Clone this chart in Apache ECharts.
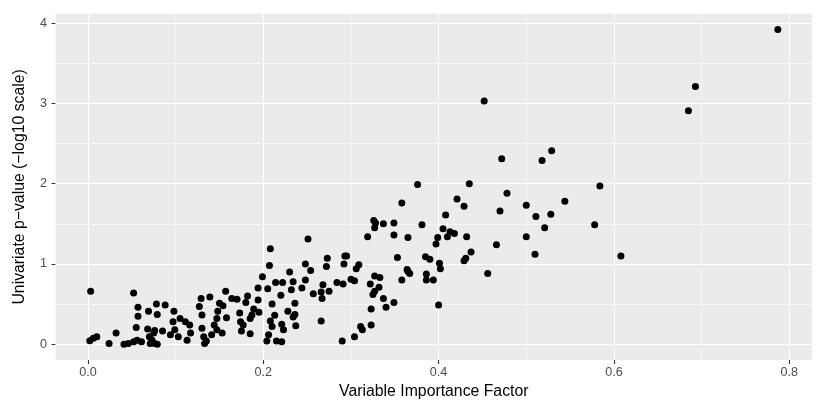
<!DOCTYPE html>
<html>
<head>
    <meta charset="UTF-8">
    <title>VIF vs p-value</title>
    <script src="https://cdn.jsdelivr.net/npm/echarts@6/dist/echarts.min.js"></script>
    <style>
        html, body { margin: 0; padding: 0; background: #fff; }
        #chart { width: 821px; height: 412px; }
    </style>
</head>
<body>
    <div id="chart"></div>
    <script>
        // [variable importance factor, -log10 p-value]
        var points = [
            [0.787, 3.92], [0.693, 3.21], [0.685, 2.91], [0.584, 1.97], [0.578, 1.49], [0.608, 1.10],
            [0.452, 3.03], [0.472, 2.31], [0.518, 2.29], [0.529, 2.41], [0.435, 2.00], [0.376, 1.99],
            [0.478, 1.88], [0.421, 1.81], [0.429, 1.72], [0.470, 1.66], [0.500, 1.73], [0.544, 1.78],
            [0.511, 1.59], [0.528, 1.62], [0.521, 1.45], [0.413, 1.40], [0.418, 1.38], [0.432, 1.34],
            [0.466, 1.24], [0.500, 1.34], [0.437, 1.15], [0.510, 1.12], [0.431, 1.07], [0.429, 1.04],
            [0.456, 0.88],
            [0.358, 1.76], [0.408, 1.61], [0.326, 1.54], [0.328, 1.51], [0.337, 1.50], [0.349, 1.51],
            [0.327, 1.45], [0.381, 1.49], [0.405, 1.44], [0.410, 1.34], [0.399, 1.33], [0.397, 1.25],
            [0.319, 1.34], [0.349, 1.36], [0.365, 1.33], [0.353, 1.08], [0.385, 1.09], [0.390, 1.06],
            [0.401, 1.01], [0.402, 0.94], [0.364, 0.93], [0.309, 0.99], [0.306, 0.94],
            [0.327, 0.85], [0.333, 0.83], [0.365, 0.91], [0.367, 0.88], [0.358, 0.80], [0.386, 0.875],
            [0.386, 0.80], [0.394, 0.80], [0.322, 0.75], [0.332, 0.71], [0.327, 0.66], [0.325, 0.62],
            [0.337, 0.57], [0.349, 0.52], [0.340, 0.46], [0.323, 0.44], [0.400, 0.49], [0.311, 0.22],
            [0.313, 0.18], [0.323, 0.24],
            [0.230, 0.90], [0.254, 0.92], [0.272, 0.97], [0.205, 0.69], [0.214, 0.77], [0.222, 0.77],
            [0.234, 0.78], [0.232, 0.68], [0.244, 0.70], [0.248, 0.80], [0.220, 0.61], [0.257, 0.63],
            [0.266, 0.65], [0.268, 0.74], [0.267, 0.57], [0.275, 0.66], [0.284, 0.77], [0.291, 0.75],
            [0.300, 0.81], [0.304, 0.79], [0.210, 0.50], [0.236, 0.51], [0.228, 0.41], [0.234, 0.34],
            [0.236, 0.37], [0.213, 0.36], [0.208, 0.29], [0.210, 0.22], [0.221, 0.25], [0.223, 0.18],
            [0.237, 0.23], [0.266, 0.29], [0.206, 0.12], [0.204, 0.04], [0.215, 0.04], [0.221, 0.03],
            [0.290, 0.04], [0.304, 0.095],
            [0.199, 0.84], [0.194, 0.70], [0.157, 0.66], [0.129, 0.57], [0.139, 0.59], [0.164, 0.57],
            [0.170, 0.56], [0.182, 0.60], [0.180, 0.52], [0.194, 0.55], [0.127, 0.47], [0.150, 0.51],
            [0.154, 0.48], [0.189, 0.44], [0.195, 0.40], [0.130, 0.365], [0.148, 0.41], [0.147, 0.32],
            [0.158, 0.33], [0.173, 0.39], [0.098, 0.41], [0.105, 0.32], [0.111, 0.28], [0.116, 0.24],
            [0.097, 0.28], [0.099, 0.18], [0.103, 0.095], [0.117, 0.14], [0.113, 0.05], [0.130, 0.20],
            [0.132, 0.095], [0.135, 0.04], [0.133, 0.01], [0.141, 0.12], [0.147, 0.18], [0.144, 0.24],
            [0.153, 0.14], [0.174, 0.28], [0.177, 0.24], [0.175, 0.165], [0.185, 0.32], [0.187, 0.365],
            [0.185, 0.13],
            [0.003, 0.66], [0.052, 0.64], [0.057, 0.46], [0.069, 0.41], [0.078, 0.50], [0.088, 0.49],
            [0.057, 0.35], [0.079, 0.37], [0.055, 0.21], [0.068, 0.19], [0.076, 0.17], [0.085, 0.165],
            [0.094, 0.12], [0.032, 0.14], [0.002, 0.045], [0.006, 0.075], [0.010, 0.095], [0.024, 0.01],
            [0.041, 0.00], [0.046, 0.01], [0.052, 0.03], [0.056, 0.05], [0.061, 0.03], [0.070, 0.095],
            [0.073, 0.05], [0.076, 0.01], [0.071, 0.01], [0.079, 0.00], [0.075, 0.14],
            [0.251, 1.31], [0.208, 1.19], [0.207, 0.98], [0.248, 1.00], [0.273, 1.07], [0.293, 1.10],
            [0.295, 1.10], [0.292, 1.00]
        ];

        var xTicks = [0, 0.2, 0.4, 0.6, 0.8];
        var xMinor = [0.1, 0.3, 0.5, 0.7];
        var yTicks = [0, 1, 2, 3, 4];
        var yMinor = [0.5, 1.5, 2.5, 3.5];

        var font = 'Liberation Sans, Arial, Helvetica, sans-serif';

        // ggplot-style white grid lines, drawn with markLine under the points
        var gridLines = [];
        xTicks.forEach(function (v) { gridLines.push({ xAxis: v, lineStyle: { width: 1.1 } }); });
        xMinor.forEach(function (v) { gridLines.push({ xAxis: v, lineStyle: { width: 0.55 } }); });
        yTicks.forEach(function (v) { gridLines.push({ yAxis: v, lineStyle: { width: 1.1 } }); });
        yMinor.forEach(function (v) { gridLines.push({ yAxis: v, lineStyle: { width: 0.55 } }); });

        var chart = echarts.init(document.getElementById('chart'), null, { renderer: 'canvas' });
        chart.setOption({
            animation: false,
            backgroundColor: '#ffffff',
            textStyle: { fontFamily: font },
            grid: {
                left: 55.6, right: 9, top: 13.8, bottom: 52,
                show: true, backgroundColor: '#EBEBEB', borderWidth: 0
            },
            xAxis: {
                type: 'value',
                min: -0.037, max: 0.826,
                name: 'Variable Importance Factor',
                nameLocation: 'middle',
                nameGap: 23,
                nameTextStyle: { color: '#000', fontSize: 15.8, fontFamily: font },
                axisLine: { show: true, onZero: false, lineStyle: { color: 'rgba(0,0,0,0)' } },
                splitLine: { show: false },
                axisTick: { show: true, length: 4, lineStyle: { color: '#333', width: 1.1 }, customValues: xTicks },
                axisLabel: {
                    color: '#4D4D4D', fontSize: 12.6, margin: 6, fontFamily: font,
                    customValues: xTicks,
                    formatter: function (v) { return v.toFixed(1); }
                }
            },
            yAxis: {
                type: 'value',
                min: -0.196, max: 4.116,
                name: 'Univariate p\u2212value (\u2212log10 scale)',
                nameLocation: 'middle',
                nameGap: 28,
                nameTextStyle: { color: '#000', fontSize: 15.8, fontFamily: font },
                axisLine: { show: true, onZero: false, lineStyle: { color: 'rgba(0,0,0,0)' } },
                splitLine: { show: false },
                axisTick: { show: true, length: 4, lineStyle: { color: '#333', width: 1.1 }, customValues: yTicks },
                axisLabel: {
                    color: '#4D4D4D', fontSize: 12.6, margin: 8.5, fontFamily: font,
                    customValues: yTicks,
                    formatter: function (v) { return String(Math.round(v)); }
                }
            },
            series: [
                {
                    type: 'scatter',
                    data: [],
                    z: 1,
                    silent: true,
                    markLine: {
                        z: 1,
                        silent: true,
                        symbol: ['none', 'none'],
                        label: { show: false },
                        lineStyle: { color: '#ffffff', type: 'solid' },
                        emphasis: { disabled: true },
                        animation: false,
                        data: gridLines
                    }
                },
                {
                    type: 'scatter',
                    data: points,
                    z: 10,
                    symbol: 'circle',
                    symbolSize: 7,
                    itemStyle: { color: '#000000', opacity: 1 }
                }
            ]
        });
    </script>
</body>
</html>
